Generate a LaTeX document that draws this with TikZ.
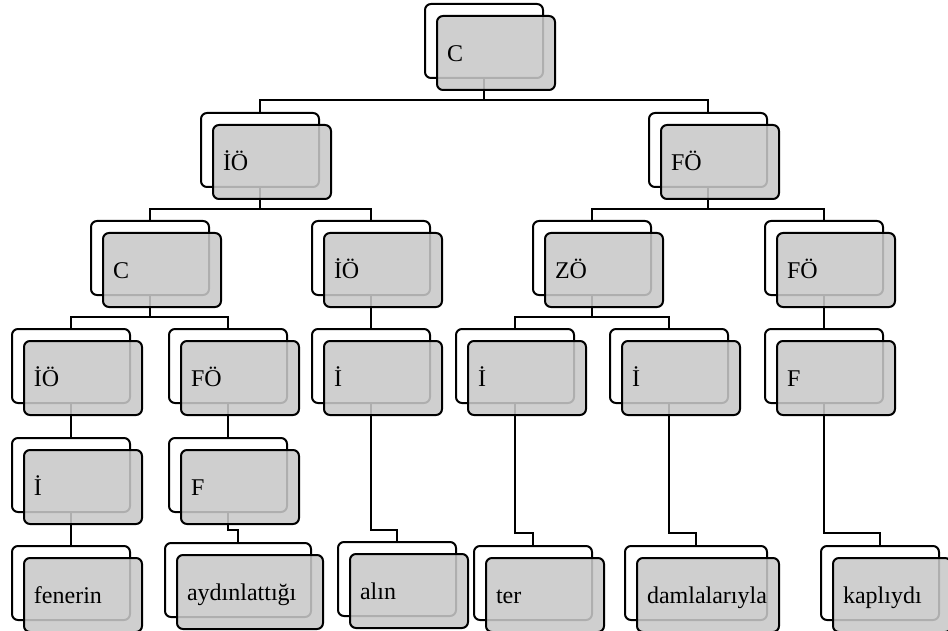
\documentclass[tikz,border=0pt]{standalone}
\usepackage{fontspec}
\setmainfont{Liberation Serif}
\tikzset{
  backbox/.style={draw, line width=2pt, rounded corners=6pt, fill=white,
    minimum height=74pt, anchor=north west, inner sep=0pt},
  frontbox/.style={draw, line width=2pt, rounded corners=6pt, fill=black!21,
    fill opacity=0.87, text opacity=1, draw opacity=1,
    minimum height=74pt, anchor=north west, inner xsep=10pt, inner ysep=0pt,
    align=left, text height=17pt, text depth=0pt,
    font=\fontsize{24}{28}\selectfont},
  link/.style={line width=2pt}
}
\newcommand\backnode[4]{\node[backbox, minimum width=#4pt] (#1) at (#2,#3) {};}
\newcommand\frontnode[3]{\node[frontbox, text width=#2pt] (#1f) at ([shift={(12,12)}]#1.north west) {#3};}
\begin{document}
\begin{tikzpicture}[x=1pt,y=-1pt]
\useasboundingbox (0,0) rectangle (948,631);
\clip (0,0) rectangle (948,631);
\fill[white] (0,0) rectangle (948,631);
% back boxes
\backnode{C}{424}{3}{118}
\backnode{IOa}{200}{112}{118}
\backnode{FOa}{648}{112}{118}
\backnode{Cb}{90}{220}{118}
\backnode{IOb}{311}{220}{118}
\backnode{ZO}{532}{220}{118}
\backnode{FOb}{764}{220}{118}
\backnode{IOc}{11}{328}{118}
\backnode{FOc}{168}{328}{118}
\backnode{Ia}{311}{328}{118}
\backnode{Ib}{455}{328}{118}
\backnode{Ic}{609}{328}{118}
\backnode{Fa}{764}{328}{118}
\backnode{Id}{11}{437}{118}
\backnode{Fb}{168}{437}{118}
\backnode{fen}{11}{545}{118}
\backnode{ayd}{164}{542}{146}
\backnode{aln}{337}{541}{118}
\backnode{ter}{473}{545}{118}
\backnode{dml}{624}{545}{142}
\backnode{kap}{820}{545}{118}
% bar levels
\coordinate (bar0) at (0,100);
\coordinate (bar1) at (0,209);
\coordinate (bar2) at (0,317);
\coordinate (elbA) at (0,530);
\coordinate (elbB) at (0,533);
% connectors
\draw[link] (C.south) -- (C.south |- bar0) -| (IOa.north);
\draw[link] (C.south |- bar0) -| (FOa.north);
\draw[link] (IOa.south) -- (IOa.south |- bar1) -| (Cb.north);
\draw[link] (IOa.south |- bar1) -| (IOb.north);
\draw[link] (FOa.south) -- (FOa.south |- bar1) -| (ZO.north);
\draw[link] (FOa.south |- bar1) -| (FOb.north);
\draw[link] (IOb.south) -- (Ia.north);
\draw[link] (FOb.south) -- (Fa.north);
\draw[link] (Cb.south) -- (Cb.south |- bar2) -| (IOc.north);
\draw[link] (Cb.south |- bar2) -| (FOc.north);
\draw[link] (ZO.south) -- (ZO.south |- bar2) -| (Ib.north);
\draw[link] (ZO.south |- bar2) -| (Ic.north);
\draw[link] (IOc.south) -- (Id.north);
\draw[link] (FOc.south) -- (Fb.north);
\draw[link] (Id.south) -- (fen.north);
\draw[link] (Fb.south) -- (Fb.south |- elbA) -| (ayd.north);
\draw[link] (Ia.south) -- (Ia.south |- elbA) -| (aln.north);
\draw[link] (Ib.south) -- (Ib.south |- elbB) -| (ter.north);
\draw[link] (Ic.south) -- (Ic.south |- elbB) -| (dml.north);
\draw[link] (Fa.south) -- (Fa.south |- elbB) -| (kap.north);
% front boxes
\frontnode{C}{98}{C}
\frontnode{IOa}{98}{İÖ}
\frontnode{FOa}{98}{FÖ}
\frontnode{Cb}{98}{C}
\frontnode{IOb}{98}{İÖ}
\frontnode{ZO}{98}{ZÖ}
\frontnode{FOb}{98}{FÖ}
\frontnode{IOc}{98}{İÖ}
\frontnode{FOc}{98}{FÖ}
\frontnode{Ia}{98}{İ}
\frontnode{Ib}{98}{İ}
\frontnode{Ic}{98}{İ}
\frontnode{Fa}{98}{F}
\frontnode{Id}{98}{İ}
\frontnode{Fb}{98}{F}
\frontnode{fen}{98}{fenerin}
\frontnode{ayd}{126}{aydınlattığı}
\frontnode{aln}{98}{alın}
\frontnode{ter}{98}{ter}
\frontnode{dml}{122}{damlalarıyla}
\frontnode{kap}{98}{kaplıydı}
\end{tikzpicture}
\end{document}
